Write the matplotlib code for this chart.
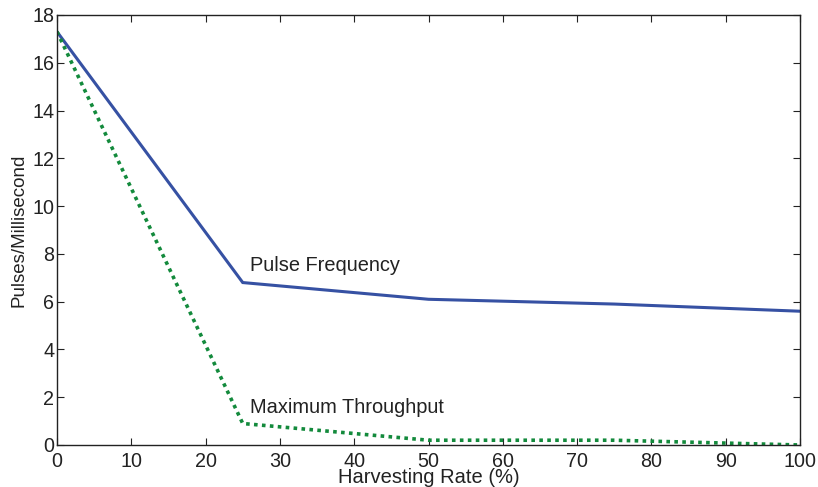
import matplotlib
matplotlib.use("Agg")
import matplotlib.pyplot as plt

harvest_rate = [0, 25, 50, 75, 100]
pulse_freq = [17.3, 6.8, 6.1, 5.9, 5.6]
max_throughput = [17.3, 0.9, 0.2, 0.2, 0.0]

x_ticks = list(range(0, 101, 10))
y_ticks = list(range(0, 19, 2))

plt.rcParams['font.family'] = ['Liberation Sans', 'DejaVu Sans']

fig = plt.figure(figsize=(8.18, 4.87), dpi=100)
ax = fig.add_axes([57 / 818, 1 - 445 / 487, 743 / 818, 430 / 487])

ax.plot(harvest_rate, pulse_freq, color='#3651a3', linewidth=2.2, solid_joinstyle='miter')
ax.plot(harvest_rate, max_throughput, color='#138a3c', linewidth=2.6,
        linestyle=(0, (1, 1.2)))

ax.text(26.0, 7.5, 'Pulse Frequency', fontsize=14.4, color='#222222', va='center')
ax.text(26.0, 1.55, 'Maximum Throughput', fontsize=14.4, color='#222222', va='center')

ax.set_xlim(0, 100)
ax.set_ylim(0, 18)
ax.set_xticks(x_ticks)
ax.set_yticks(y_ticks)
ax.tick_params(direction='in', top=True, right=True, length=5, width=0.8,
               labelsize=14.2, colors='#222222')
ax.tick_params(axis='x', pad=5)
ax.tick_params(axis='y', pad=2)
for s in ax.spines.values():
    s.set_linewidth(1.0)
    s.set_color('#222222')

ax.set_xlabel('Harvesting Rate (%)', fontsize=14.5, color='#222222', labelpad=-2)
ax.set_ylabel('Pulses/Millisecond', fontsize=13.5, color='#222222', labelpad=3)

fig.savefig('out.png', dpi=100)
